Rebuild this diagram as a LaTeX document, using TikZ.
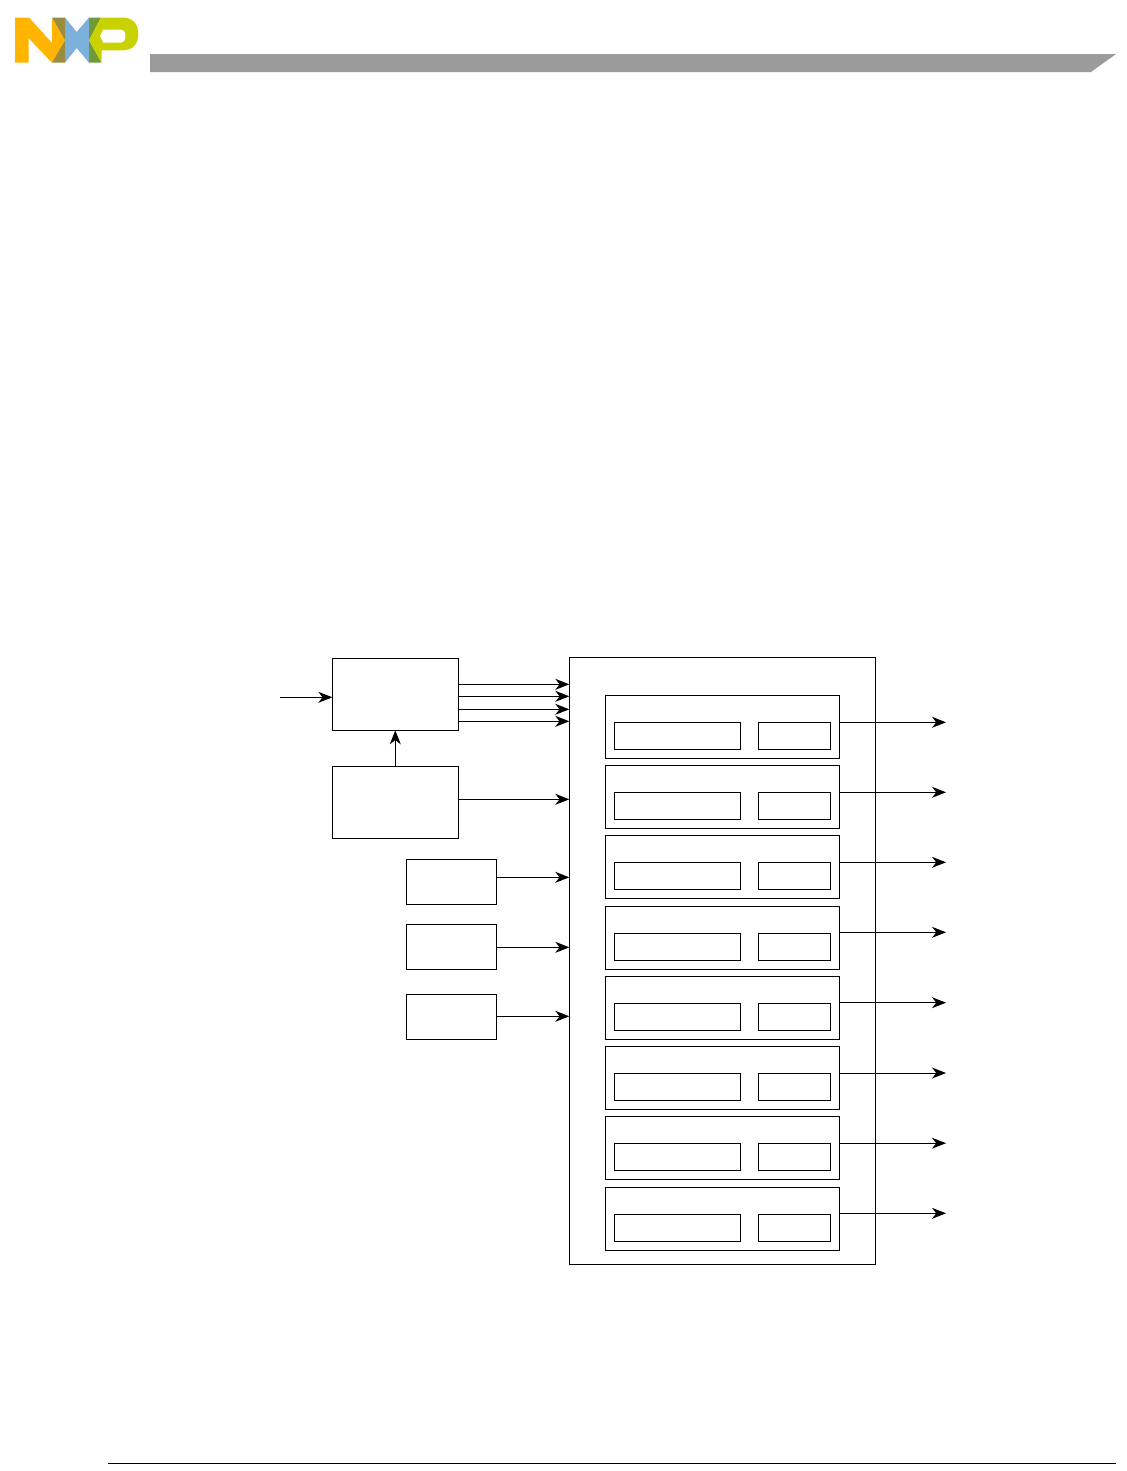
\documentclass[tikz,border=0pt]{standalone}
\usepackage{tikz}
\usetikzlibrary{arrows.meta,calc,positioning}
\definecolor{nxporange}{HTML}{FFB500}
\definecolor{nxpolive}{HTML}{9B8B3C}
\definecolor{nxpblue}{HTML}{7BB1DB}
\definecolor{nxpgreen}{HTML}{6F9A37}
\definecolor{nxpyellow}{HTML}{C9D200}
\definecolor{bargray}{HTML}{9B9B9B}
\tikzset{
  sig/.style={line width=0.75pt,-{Stealth[length=10.5pt,width=8.2pt,inset=3.2pt]}},
  blockbox/.style={draw,line width=0.75pt,inner sep=0pt,outer sep=0pt,anchor=north west,minimum width=94.5pt,minimum height=54pt},
  smallbox/.style={blockbox,minimum width=67.5pt,minimum height=33.75pt},
  sysbox/.style={blockbox,minimum width=229.5pt,minimum height=455.25pt},
  chbox/.style={blockbox,minimum width=175.5pt,minimum height=47.25pt},
  cntbox/.style={blockbox,minimum width=94.5pt,minimum height=20.25pt},
  regbox/.style={blockbox,minimum width=54pt,minimum height=20.25pt},
}
\begin{document}
\begin{tikzpicture}[x=0.75pt,y=-0.75pt]
\useasboundingbox (0,0) rectangle (1127,1471);
% --- testata: logo e barra ---
\fill[nxporange] (15,17.5) -- (29,17.5) -- (52,43) -- (52,18) -- (65,40.3) -- (52,62.7) -- (28.5,38) -- (28.5,62.7) -- (15,62.7) -- cycle;
\fill[nxpolive] (52,17.5) -- (65,17.5) -- (65,40.3) -- cycle;
\fill[nxpolive] (65,40.3) -- (65,62.7) -- (52,62.7) -- cycle;
\fill[nxpblue] (65,17.5) -- (76.7,32) -- (89,17.5) -- (89,62.7) -- (76.7,48) -- (65,62.7) -- cycle;
\fill[nxpgreen] (89,17.5) -- (101,17.5) -- (89,40.3) -- (101.5,62.7) -- (89,62.7) -- cycle;
\fill[nxpyellow,even odd rule] (89,40.3) -- (101,17.5) -- (122,17.5) .. controls (133,17.5) and (138.3,24) .. (138.3,33.7) .. controls (138.3,44) and (133,50.3) .. (122,50.3) -- (101.5,50.3) -- (101.5,62.7) -- cycle
  (103,29.5) -- (120,29.5) .. controls (124,29.5) and (125.5,32) .. (125.5,36) .. controls (125.5,40) and (124,42.7) .. (120,42.7) -- (103,42.7) -- (100,36) -- cycle;
\fill[bargray] (150,54) -- (1116,54) -- (1091,72) -- (150,72) -- cycle;
% --- blocchi a sinistra ---
\node[blockbox] (ctrl) at (332.3,658.3) {};
\node[blockbox] (prog) at (332.3,766.3) {};
\node[smallbox] (srcA) at (406.5,859.5) {};
\node[smallbox] (srcB) at (406.5,924.5) {};
\node[smallbox] (srcC) at (406.5,994.5) {};
\node[sysbox] (sys) at (569.3,657.3) {};
% --- canali ---
\foreach \chy/\outy [count=\i] in {695.5/722.3,765.5/792.3,835.5/862.3,906.3/932.3,976.5/1002.7,1046.5/1073,1116.5/1143.2,1187.3/1213.3}{
  \node[chbox] (ch\i) at (605.5,\chy) {};
  \node[cntbox] (cnt\i) at (614.3,\chy+27) {};
  \node[regbox] (reg\i) at (758.3,\chy+27) {};
  \coordinate (out\i) at (946,\outy);
  \draw[sig] (ch\i.east |- out\i) -- (out\i);
}
% --- segnali ---
\coordinate (clkin) at (280,697.3);
\draw[sig] (clkin) -- (ctrl.west |- clkin);
\draw[sig] (prog.north) -- (ctrl.south);
\foreach \bly in {684.3,696.3,709.3,721.3}{
  \draw[sig] (ctrl.east |- 0,\bly) -- (sys.west |- 0,\bly);
}
\draw[sig] (prog.east |- 0,799.3) -- (sys.west |- 0,799.3);
\draw[sig] (srcA.east |- 0,877.3) -- (sys.west |- 0,877.3);
\draw[sig] (srcB.east |- 0,947.3) -- (sys.west |- 0,947.3);
\draw[sig] (srcC.east |- 0,1016.3) -- (sys.west |- 0,1016.3);
% --- piede ---
\draw[line width=1pt] (108,1463.5) -- (1116,1463.5);
\end{tikzpicture}
\end{document}
